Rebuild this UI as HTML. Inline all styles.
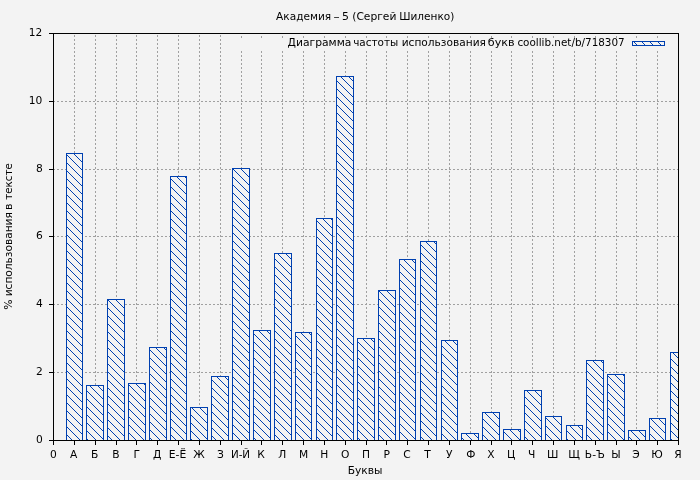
<!DOCTYPE html>
<html lang="ru"><head><meta charset="utf-8"><title>Академия – 5 (Сергей Шиленко)</title>
<style>html,body{margin:0;padding:0;background:#f3f3f3;overflow:hidden}svg{display:block}text{font-family:"DejaVu Sans","Liberation Sans",sans-serif;font-size:10.67px;fill:#000}</style>
</head><body>
<svg width="700" height="480" viewBox="0 0 700 480">
<defs>
<pattern id="h" width="8" height="8" patternUnits="userSpaceOnUse" x="0" y="0"><rect width="8" height="8" fill="#f3f3f3"/><path d="M-2,-2 L10,10 M-2,6 L2,10 M6,-2 L10,2" stroke="#0040b0" stroke-width="1" fill="none"/></pattern>
<clipPath id="cp"><rect x="53.5" y="33.5" width="625.5" height="407.0"/></clipPath>
</defs>
<rect width="700" height="480" fill="#f3f3f3"/>
<path d="M74.5,440.5 V33.5 M95.5,440.5 V33.5 M116.5,440.5 V33.5 M136.5,440.5 V33.5 M157.5,440.5 V33.5 M178.5,440.5 V33.5 M199.5,440.5 V33.5 M220.5,440.5 V33.5 M241.5,440.5 V33.5 M261.5,440.5 V33.5 M282.5,440.5 V33.5 M303.5,440.5 V33.5 M324.5,440.5 V33.5 M345.5,440.5 V33.5 M366.5,440.5 V33.5 M386.5,440.5 V33.5 M407.5,440.5 V33.5 M428.5,440.5 V33.5 M449.5,440.5 V33.5 M470.5,440.5 V33.5 M491.5,440.5 V33.5 M511.5,440.5 V33.5 M532.5,440.5 V33.5 M553.5,440.5 V33.5 M574.5,440.5 V33.5 M595.5,440.5 V33.5 M616.5,440.5 V33.5 M636.5,440.5 V33.5 M657.5,440.5 V33.5 M53.5,372.5 H678.5 M53.5,304.5 H678.5 M53.5,236.5 H678.5 M53.5,169.5 H678.5 M53.5,101.5 H678.5" stroke="#a0a0a0" stroke-width="1" stroke-dasharray="2 2" stroke-dashoffset="0.5" fill="none"/>
<rect x="230" y="34.5" width="445" height="16" fill="#f3f3f3"/>
<path d="M241.5,36 v2 M261.5,36 v2 M282.5,36 v2 M303.5,36 v2 M324.5,36 v2 M345.5,36 v2 M366.5,36 v2 M386.5,36 v2 M407.5,36 v2 M428.5,36 v2 M449.5,36 v2 M470.5,36 v2 M491.5,36 v2 M511.5,36 v2 M532.5,36 v2 M553.5,36 v2 M574.5,36 v2 M595.5,36 v2 M616.5,36 v2 M636.5,36 v2 M657.5,36 v2" stroke="#a0a0a0" stroke-width="1" fill="none"/>
<g clip-path="url(#cp)" fill="url(#h)" stroke="#0040b0" stroke-width="1">
<rect x="66.5" y="153.5" width="16.0" height="287.0"/>
<rect x="86.5" y="385.5" width="17.0" height="55.0"/>
<rect x="107.5" y="299.5" width="17.0" height="141.0"/>
<rect x="128.5" y="383.5" width="17.0" height="57.0"/>
<rect x="149.5" y="347.5" width="17.0" height="93.0"/>
<rect x="170.5" y="176.5" width="16.0" height="264.0"/>
<rect x="190.5" y="407.5" width="17.0" height="33.0"/>
<rect x="211.5" y="376.5" width="17.0" height="64.0"/>
<rect x="232.5" y="168.5" width="17.0" height="272.0"/>
<rect x="253.5" y="330.5" width="17.0" height="110.0"/>
<rect x="274.5" y="253.5" width="17.0" height="187.0"/>
<rect x="295.5" y="332.5" width="16.0" height="108.0"/>
<rect x="316.5" y="218.5" width="16.0" height="222.0"/>
<rect x="336.5" y="76.5" width="17.0" height="364.0"/>
<rect x="357.5" y="338.5" width="17.0" height="102.0"/>
<rect x="378.5" y="290.5" width="17.0" height="150.0"/>
<rect x="399.5" y="259.5" width="16.0" height="181.0"/>
<rect x="420.5" y="241.5" width="16.0" height="199.0"/>
<rect x="441.5" y="340.5" width="16.0" height="100.0"/>
<rect x="461.5" y="433.5" width="17.0" height="7.0"/>
<rect x="482.5" y="412.5" width="17.0" height="28.0"/>
<rect x="503.5" y="429.5" width="17.0" height="11.0"/>
<rect x="524.5" y="390.5" width="17.0" height="50.0"/>
<rect x="545.5" y="416.5" width="16.0" height="24.0"/>
<rect x="566.5" y="425.5" width="16.0" height="15.0"/>
<rect x="586.5" y="360.5" width="17.0" height="80.0"/>
<rect x="607.5" y="374.5" width="17.0" height="66.0"/>
<rect x="628.5" y="430.5" width="17.0" height="10.0"/>
<rect x="649.5" y="418.5" width="16.0" height="22.0"/>
<rect x="670.5" y="352.5" width="16.0" height="88.0"/>
</g>
<rect x="632.5" y="41.5" width="32" height="4" fill="url(#h)" stroke="#0040b0" stroke-width="1"/>
<path d="M53.5,440.5 v4.5 M74.5,440.5 v4.5 M95.5,440.5 v4.5 M116.5,440.5 v4.5 M136.5,440.5 v4.5 M157.5,440.5 v4.5 M178.5,440.5 v4.5 M199.5,440.5 v4.5 M220.5,440.5 v4.5 M241.5,440.5 v4.5 M261.5,440.5 v4.5 M282.5,440.5 v4.5 M303.5,440.5 v4.5 M324.5,440.5 v4.5 M345.5,440.5 v4.5 M366.5,440.5 v4.5 M386.5,440.5 v4.5 M407.5,440.5 v4.5 M428.5,440.5 v4.5 M449.5,440.5 v4.5 M470.5,440.5 v4.5 M491.5,440.5 v4.5 M511.5,440.5 v4.5 M532.5,440.5 v4.5 M553.5,440.5 v4.5 M574.5,440.5 v4.5 M595.5,440.5 v4.5 M616.5,440.5 v4.5 M636.5,440.5 v4.5 M657.5,440.5 v4.5 M678.5,440.5 v4.5 M53.5,440.5 h-4.5 M53.5,372.5 h-4.5 M53.5,304.5 h-4.5 M53.5,236.5 h-4.5 M53.5,169.5 h-4.5 M53.5,101.5 h-4.5 M53.5,33.5 h-4.5" stroke="#000" stroke-width="1" fill="none"/>
<rect x="53.5" y="33.5" width="625.0" height="407.0" fill="none" stroke="#000" stroke-width="1"/>
<text x="53.5" y="457.5" text-anchor="middle">0</text>
<text x="73.63" y="457.5" text-anchor="middle">А</text>
<text x="94.77" y="457.5" text-anchor="middle">Б</text>
<text x="116.0" y="457.5" text-anchor="middle">В</text>
<text x="136.83" y="457.5" text-anchor="middle">Г</text>
<text x="157.07" y="457.5" text-anchor="middle">Д</text>
<text x="168.69" y="457.5" textLength="17.51" lengthAdjust="spacingAndGlyphs">Е-Ё</text>
<text x="199.03" y="457.5" text-anchor="middle">Ж</text>
<text x="220.47" y="457.5" text-anchor="middle">З</text>
<text x="230.93" y="457.5" textLength="19.18" lengthAdjust="spacingAndGlyphs">И-Й</text>
<text x="260.93" y="457.5" text-anchor="middle">К</text>
<text x="282.27" y="457.5" text-anchor="middle">Л</text>
<text x="303.5" y="457.5" text-anchor="middle">М</text>
<text x="324.33" y="457.5" text-anchor="middle">Н</text>
<text x="345.17" y="457.5" text-anchor="middle">О</text>
<text x="366.0" y="457.5" text-anchor="middle">П</text>
<text x="386.83" y="457.5" text-anchor="middle">Р</text>
<text x="406.87" y="457.5" text-anchor="middle">С</text>
<text x="427.5" y="457.5" text-anchor="middle">Т</text>
<text x="449.33" y="457.5" text-anchor="middle">У</text>
<text x="470.87" y="457.5" text-anchor="middle">Ф</text>
<text x="490.8" y="457.5" text-anchor="middle">Х</text>
<text x="511.03" y="457.5" text-anchor="middle">Ц</text>
<text x="531.77" y="457.5" text-anchor="middle">Ч</text>
<text x="552.8" y="457.5" text-anchor="middle">Ш</text>
<text x="574.13" y="457.5" text-anchor="middle">Щ</text>
<text x="594.87" y="457.5" text-anchor="middle">Ь-Ъ</text>
<text x="616.0" y="457.5" text-anchor="middle">Ы</text>
<text x="635.98" y="457.5" text-anchor="middle">Э</text>
<text x="656.97" y="457.5" text-anchor="middle">Ю</text>
<text x="678.0" y="457.5" text-anchor="middle">Я</text>
<text x="42.7" y="443.2" text-anchor="end">0</text>
<text x="42.7" y="375.2" text-anchor="end">2</text>
<text x="42.7" y="307.2" text-anchor="end">4</text>
<text x="42.7" y="239.2" text-anchor="end">6</text>
<text x="42.7" y="172.2" text-anchor="end">8</text>
<text x="28.68" y="104.2" textLength="13.56" lengthAdjust="spacingAndGlyphs">10</text>
<text x="28.68" y="36.2" textLength="13.47" lengthAdjust="spacingAndGlyphs">12</text>
<text x="276.08" y="19.5" textLength="55.15" lengthAdjust="spacingAndGlyphs">Академия</text>
<text x="333.43" y="19.5" textLength="6.09" lengthAdjust="spacingAndGlyphs">–</text>
<text x="342.11" y="19.5" textLength="6.92" lengthAdjust="spacingAndGlyphs">5</text>
<text x="352.22" y="19.5" textLength="44.18" lengthAdjust="spacingAndGlyphs">(Сергей</text>
<text x="399.21" y="19.5" textLength="55.19" lengthAdjust="spacingAndGlyphs">Шиленко)</text>
<text x="287.6" y="46.3" textLength="63.83" lengthAdjust="spacingAndGlyphs">Диаграмма</text>
<text x="353.17" y="46.3" textLength="45.04" lengthAdjust="spacingAndGlyphs">частоты</text>
<text x="401.71" y="46.3" textLength="84.21" lengthAdjust="spacingAndGlyphs">использования</text>
<text x="487.85" y="46.3" textLength="26.79" lengthAdjust="spacingAndGlyphs">букв</text>
<text x="517.39" y="46.3" textLength="107.31" lengthAdjust="spacingAndGlyphs">coollib.net/b/718307</text>
<text x="365" y="473.8" text-anchor="middle">Буквы</text>
<g transform="translate(12,0) rotate(-90)">
<text x="-309.83" y="0" textLength="10.28" lengthAdjust="spacingAndGlyphs">%</text>
<text x="-296.29" y="0" textLength="84.11" lengthAdjust="spacingAndGlyphs">использования</text>
<text x="-209.94" y="0" textLength="6.52" lengthAdjust="spacingAndGlyphs">в</text>
<text x="-199.86" y="0" textLength="36.67" lengthAdjust="spacingAndGlyphs">тексте</text>
</g>
</svg></body></html>
